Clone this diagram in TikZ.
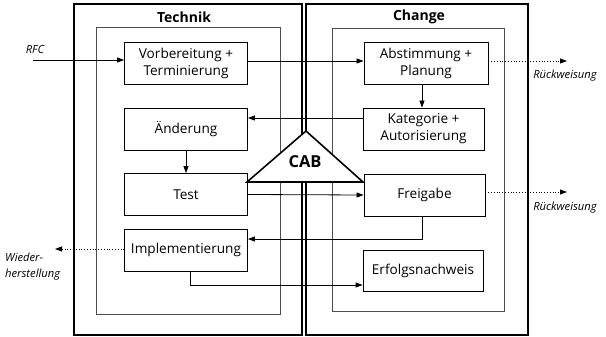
\documentclass[tikz,border=0pt]{standalone}
\usepackage{fontspec}
\setmainfont{Open Sans}
\usetikzlibrary{arrows.meta}
\begin{document}
\begin{tikzpicture}[x=1pt,y=-1pt,
  proc/.style={draw, line width=0.8pt, minimum width=123pt, minimum height=42pt,
    inner sep=0pt, align=center, font=\fontsize{13.6}{17}\selectfont},
  frame/.style={draw, line width=1.4pt},
  innerframe/.style={draw, black!70, line width=0.9pt},
  title/.style={font=\fontsize{14}{16}\selectfont\bfseries},
  flow/.style={line width=0.8pt, -{Triangle[length=7pt,width=5pt]}},
  reject/.style={flow, dotted},
  side/.style={font=\fontsize{11.2}{16}\selectfont\itshape, inner sep=0pt},
]
\useasboundingbox (0,0) rectangle (606,337);

% outer and inner frames of both areas
\draw[frame] (74,4) rectangle (302,335);
\draw[frame] (306,4) rectangle (528,335);
\draw[innerframe] (96,27) rectangle (280,314);
\draw[innerframe] (332,28) rectangle (504,311);
\node[title] (tTech) at (184,17) {Technik};
\node[title] (tChange) at (419,17) {Change};

% process steps, Technik
\node[proc] (vor) at (186,63) {Vorbereitung +\\Terminierung};
\node[proc] (aen) at (186,129) {Änderung};
\node[proc] (test) at (186,194.5) {Test};
\node[proc] (impl) at (186,250) {Implementierung};

% process steps, Change
\node[proc, minimum width=124pt] (abs) at (426,63) {Abstimmung +\\Planung};
\node[proc, minimum width=121pt] (kat) at (423.5,129) {Kategorie +\\Autorisierung};
\node[proc, minimum width=121pt] (frei) at (424.5,195) {Freigabe};
\node[proc, minimum width=120pt, minimum height=41pt] (erf) at (423,270.5) {Erfolgsnachweis};

% outside ends of the connectors
\coordinate (rfc) at (33,60);
\coordinate (rej1) at (567,61);
\coordinate (rej2) at (567,192);
\coordinate (wh) at (55,249);

% flow between the steps
\draw[flow] (rfc) -- ([yshift=3pt]vor.west);
\draw[flow] ([yshift=2pt]vor.east) -- ([yshift=2pt]abs.west);
\draw[flow] ([xshift=-4pt]abs.south) -- ([xshift=-4pt]abs.south |- kat.north);
\draw[flow] ([yshift=11pt]kat.west) -- ([yshift=11pt]aen.east);
\draw[flow] (aen.south) -- (test.north);
\draw[flow] (test.east) -- (frei.west);
\draw[flow] ([xshift=-2pt]frei.south) |- ([yshift=11pt]impl.east);
\draw[flow] ([xshift=4pt]impl.south) |- ([yshift=-14.5pt]erf.west);

% rejection and restore paths
\draw[reject] ([yshift=2pt]abs.east) -- (rej1);
\draw[reject] ([yshift=3pt]frei.east) -- (rej2);
\draw[reject] ([yshift=1pt]impl.west) -- (wh);

% change advisory board
\draw[line width=1.6pt, fill=white] (306,131) -- (247,182) -- (363,182) -- cycle;
\node[font=\fontsize{16.5}{18}\selectfont\bfseries] (cab) at (305,162) {CAB};

% labels
\node[side] (lrfc) at (35,50) {RFC};
\node[side] (lrej1) at (565,76) {Rückweisung};
\node[side] (lrej2) at (565,208) {Rückweisung};
\node[side, align=left, anchor=west] (lwh) at (5,267) {Wieder-\\herstellung};
\end{tikzpicture}
\end{document}
